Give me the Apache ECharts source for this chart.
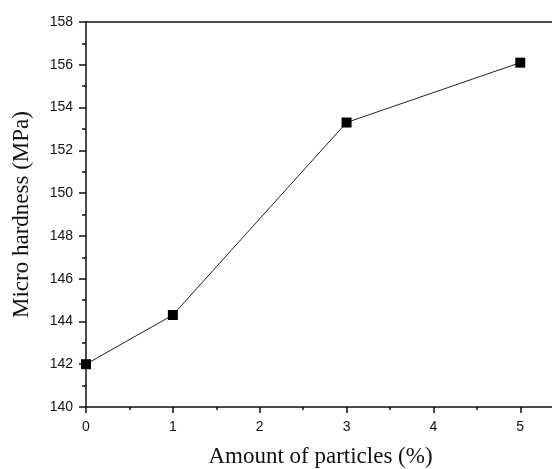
<!DOCTYPE html>
<html>
<head>
<meta charset="utf-8">
<script src="https://cdn.jsdelivr.net/npm/echarts@6/dist/echarts.min.js"></script>
<style>
  html, body { margin: 0; padding: 0; background: #fff; }
  #chart { width: 552px; height: 469px; }
</style>
</head>
<body>
<div id="chart"></div>
<script>
// amount of particles (%) vs micro hardness (MPa)
const amount = [0, 1, 3, 5];
const hardness = [142.0, 144.3, 153.3, 156.1];
const yTicks = [140, 142, 144, 146, 148, 150, 152, 154, 156, 158];

const chart = echarts.init(document.getElementById('chart'));
const sans = 'Liberation Sans, Arial, sans-serif';
const serif = 'Liberation Serif, Times New Roman, serif';

const option = {
  animation: false,
  backgroundColor: '#fff',
  grid: { left: 86, top: 22, width: 469, bottom: 62, containLabel: false, outerBoundsMode: 'none' },
  xAxis: [
    {
      type: 'value',
      min: 0,
      max: 5.4,
      interval: 1,
      name: 'Amount of particles (%)',
      nameLocation: 'middle',
      nameGap: 38,
      nameTextStyle: { fontFamily: serif, fontSize: 23, color: '#111' },
      axisLine: { lineStyle: { color: '#111', width: 1.5 } },
      axisTick: { length: 6, lineStyle: { color: '#111', width: 1.5 } },
      minorTick: { show: true, splitNumber: 2, length: 3, lineStyle: { color: '#111', width: 1.5 } },
      axisLabel: {
        margin: 13, fontFamily: sans, fontSize: 14, color: '#111',
        formatter: v => (Number.isInteger(v) && v <= 5) ? String(v) : ''
      },
      splitLine: { show: false }
    },
    {
      type: 'value',
      position: 'top',
      min: 0,
      max: 5.4,
      axisLine: { show: true, onZero: false, lineStyle: { color: '#111', width: 1.5 } },
      axisTick: { show: false },
      axisLabel: { show: false },
      splitLine: { show: false }
    }
  ],
  yAxis: {
    type: 'value',
    min: yTicks[0],
    max: yTicks[yTicks.length - 1],
    interval: 2,
    name: 'Micro hardness (MPa)',
    nameLocation: 'middle',
    nameGap: 53,
    nameTextStyle: { fontFamily: serif, fontSize: 23, color: '#111' },
    axisLine: { show: true, lineStyle: { color: '#111', width: 1.5 } },
    axisTick: { length: 7, lineStyle: { color: '#111', width: 1.5 } },
    minorTick: { show: true, splitNumber: 2, length: 4, lineStyle: { color: '#111', width: 1.5 } },
    axisLabel: { margin: 13, fontFamily: sans, fontSize: 14, color: '#111' },
    splitLine: { show: false }
  },
  series: [
    {
      type: 'line',
      data: amount.map((a, i) => [a, hardness[i]]),
      symbol: 'rect',
      symbolSize: 10,
      itemStyle: { color: '#000' },
      lineStyle: { color: '#222', width: 1 }
    }
  ]
};
chart.setOption(option);
</script>
</body>
</html>
